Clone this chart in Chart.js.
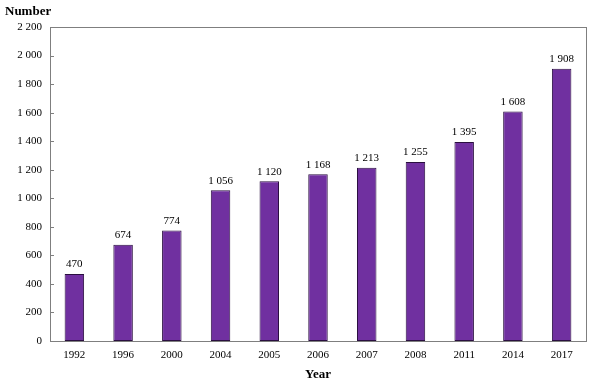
<!DOCTYPE html>
<html>
<head>
<meta charset="utf-8">
<script src="https://cdn.jsdelivr.net/npm/chart.js@4.4.0/dist/chart.umd.min.js"></script>
<style>
  html, body { margin: 0; padding: 0; background: #fff; }
  #wrap { width: 594px; height: 383px; }
</style>
</head>
<body>
<div id="wrap"><canvas id="chart"></canvas></div>
<script>
const years = ["1992", "1996", "2000", "2004", "2005", "2006", "2007", "2008", "2011", "2014", "2017"];
const counts = [470, 674, 774, 1056, 1120, 1168, 1213, 1255, 1395, 1608, 1908];
const yTicks = [0, 200, 400, 600, 800, 1000, 1200, 1400, 1600, 1800, 2000, 2200];

const serif = "'Liberation Serif', 'Times New Roman', serif";

function fmt(n) {
    return String(n).replace(/\B(?=(\d{3})+(?!\d))/g, " ");
}

// frame, inward ticks, value labels, axis titles
const extras = {
    id: "extras",
    afterDatasetsDraw(c) {
        const ctx = c.ctx;
        const a = c.chartArea;
        const y = c.scales.y;
        ctx.save();
        ctx.strokeStyle = "#7f7f7f";
        ctx.lineWidth = 1;
        ctx.strokeRect(Math.round(a.left) + 0.5, Math.round(a.top) + 0.5,
            Math.round(a.right - a.left), Math.round(a.bottom - a.top));
        ctx.beginPath();
        yTicks.forEach(t => {
            const py = Math.round(y.getPixelForValue(t)) + 0.5;
            ctx.moveTo(a.left, py);
            ctx.lineTo(a.left + 4, py);
        });
        ctx.stroke();

        ctx.fillStyle = "#000";
        ctx.font = "11px " + serif;
        ctx.textAlign = "center";
        ctx.textBaseline = "bottom";
        const meta = c.getDatasetMeta(0);
        meta.data.forEach((bar, i) => {
            ctx.fillText(fmt(counts[i]), bar.x, bar.y - 4);
        });

        ctx.font = "bold 13px " + serif;
        ctx.textAlign = "left";
        ctx.textBaseline = "middle";
        ctx.fillText("Number", 5, 12);
        ctx.textAlign = "center";
        ctx.fillText("Year", (a.left + a.right) / 2, 375);
        ctx.restore();
    }
};

new Chart(document.getElementById("chart"), {
    type: "bar",
    data: {
        labels: years,
        datasets: [{
            data: counts,
            backgroundColor: "#7030A0",
            borderColor: "#2a0f40",
            borderWidth: 1,
            borderSkipped: false,
            categoryPercentage: 1,
            barPercentage: 0.4
        }]
    },
    options: {
        responsive: true,
        maintainAspectRatio: false,
        animation: false,
        layout: { padding: { left: 0, right: 8, top: 27, bottom: 0 } },
        plugins: { legend: { display: false }, tooltip: { enabled: false } },
        scales: {
            x: {
                grid: { display: false, drawTicks: false },
                border: { display: false },
                ticks: { color: "#000", font: { family: serif, size: 11 }, padding: 8, maxRotation: 0 },
                afterFit(s) { s.height = 42; }
            },
            y: {
                min: 0,
                max: 2200,
                grid: { display: false, drawTicks: false },
                border: { display: false },
                afterBuildTicks(s) { s.ticks = yTicks.map(v => ({ value: v })); },
                ticks: {
                    color: "#000",
                    font: { family: serif, size: 11 },
                    padding: 8,
                    callback: v => fmt(v)
                },
                afterFit(s) { s.width = 50; }
            }
        }
    },
    plugins: [extras]
});
</script>
</body>
</html>
